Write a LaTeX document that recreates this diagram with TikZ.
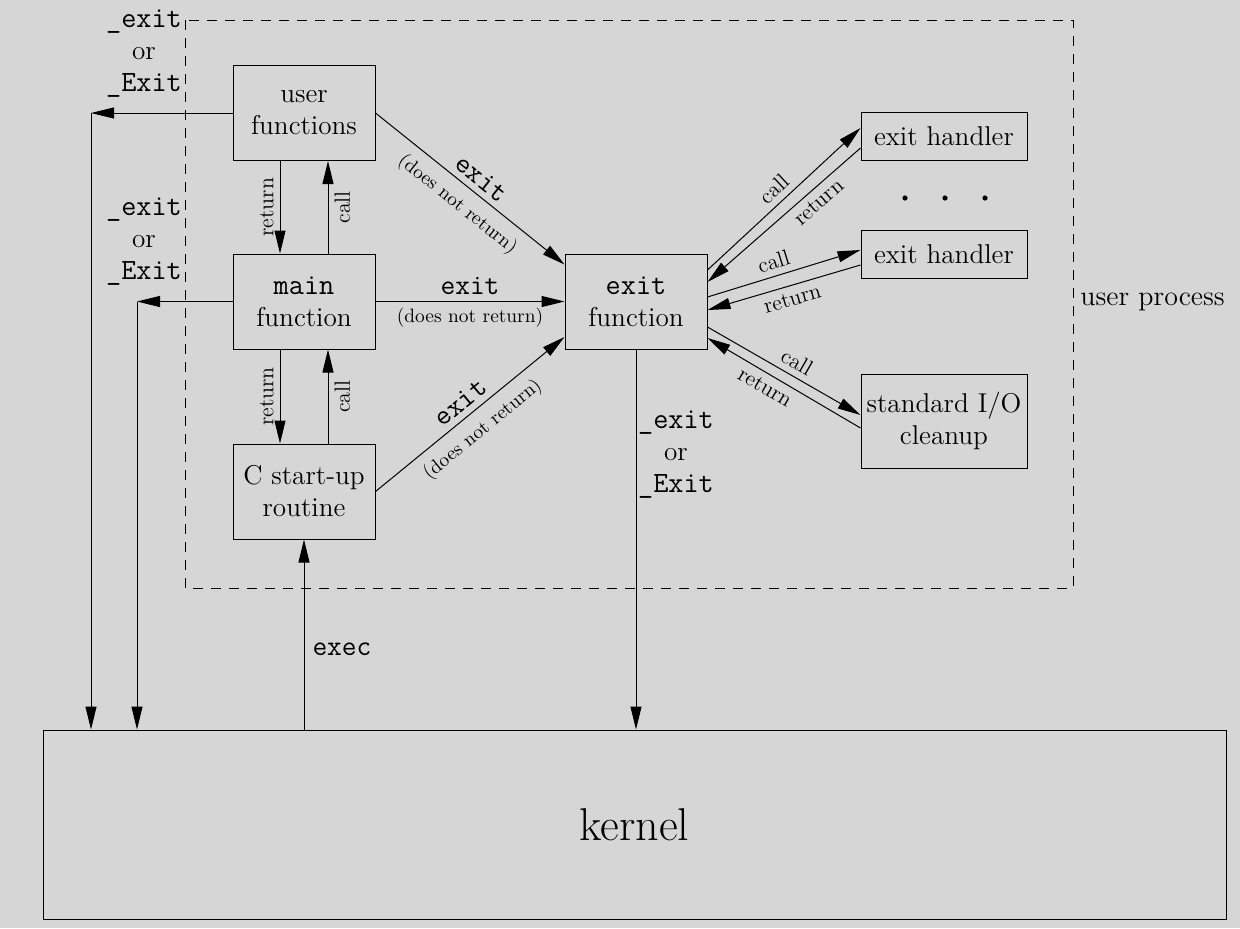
\documentclass[tikz,border=0pt]{standalone}
\usepackage{fontspec}
\usetikzlibrary{arrows.meta,calc}
\definecolor{bg}{RGB}{214,214,214}
\newcommand\ttxt[1]{{\fontsize{14.7}{16}\selectfont\ttfamily #1}}
\begin{document}
\begin{tikzpicture}[x=0.5pt,y=-0.5pt,
  box/.style={draw, line width=0.5pt, inner sep=0pt, align=center, font=\fontsize{13.6}{16}\selectfont},
  bigbox/.style={box, minimum width=71pt, minimum height=47.5pt},
  hbox/.style={box, minimum width=83pt},
  arr/.style={line width=0.5pt, -{Triangle[length=11.5pt,width=5.5pt]}},
  lbl/.style={font=\fontsize{11}{13}\selectfont, inner sep=3pt},
  dnr/.style={font=\fontsize{9.7}{11}\selectfont, inner sep=3pt},
  ttl/.style={font=\fontsize{14.3}{15}\selectfont\ttfamily, inner sep=3pt},
  xor/.style={align=center, inner sep=0pt, font=\fontsize{13.6}{16}\selectfont}
]
\fill[bg] (0,0) rectangle (1240,928);
\useasboundingbox (0,0) rectangle (1240,928);

% user process frame
\draw[line width=0.5pt, dash pattern=on 5pt off 4pt] (185,20) rectangle (1073,588);
\node[anchor=west, inner sep=0pt, font=\fontsize{14}{16}\selectfont] (up) at (1080,302) {user process};

% boxes
\node[bigbox] (uf) at (304,113) {user\\functions};
\node[bigbox] (main) at (304,301.5) {\ttxt{main}\\function};
\node[bigbox] (cs) at (304,491.5) {C start-up\\routine};
\node[bigbox] (ef) at (636,301.5) {\ttxt{exit}\\function};
\node[hbox, minimum height=24pt] (h1) at (944,136) {exit handler};
\node[hbox, minimum height=24pt] (h2) at (944,254) {exit handler};
\node[hbox, minimum height=47pt] (io) at (944,421) {standard I/O\\cleanup};
\node[box, minimum width=591.5pt, minimum height=94.5pt, font=\fontsize{23}{26}\selectfont] (kernel) at (634.5,824.5) {kernel};

% dots
\foreach \x in {905,945,985} \fill (\x,198) circle (1.3pt);

% _exit or _Exit labels
\node[xor] (xl1) at (144,54) {\ttxt{\_exit}\\or\\\ttxt{\_Exit}};
\node[xor] (xl2) at (144,242) {\ttxt{\_exit}\\or\\\ttxt{\_Exit}};
\node[xor] (xl3) at (676,455) {\ttxt{\_exit}\\or\\\ttxt{\_Exit}};

% left exits to kernel
\coordinate (c1) at (91,113);
\coordinate (c2) at (137,301.5);
\draw[arr] (uf.west) -- (c1);
\draw[arr] (c1) -- (c1 |- kernel.north);
\draw[arr] (main.west) -- (c2);
\draw[arr] (c2) -- (c2 |- kernel.north);

% call / return vertical
\draw[arr] ($(uf.south)+(-24,0)$) -- node[lbl, midway, rotate=90, anchor=south]{return} ($(main.north)+(-24,0)$);
\draw[arr] ($(main.north)+(24,0)$) -- node[lbl, midway, rotate=90, anchor=north]{call} ($(uf.south)+(24,0)$);
\draw[arr] ($(main.south)+(-24,0)$) -- node[lbl, midway, rotate=90, anchor=south]{return} ($(cs.north)+(-24,0)$);
\draw[arr] ($(cs.north)+(24,0)$) -- node[lbl, midway, rotate=90, anchor=north]{call} ($(main.south)+(24,0)$);

% exec
\draw[arr] (kernel.north -| cs.south) -- node[ttl, pos=0.42, anchor=west, xshift=1pt]{exec} (cs.south);

% exit function to kernel
\draw[arr] (ef.south) -- (ef.south |- kernel.north);

% exit calls
\draw[arr] (uf.east) -- node[ttl, pos=0.51, sloped, above]{exit} node[dnr, pos=0.5, sloped, below, inner sep=5pt]{(does not return)} ($(ef.west)+(0,-37)$);
\draw[arr] (main.east) -- node[ttl, midway, above]{exit} node[dnr, midway, below]{(does not return)} (ef.west);
\draw[arr] (cs.east) -- node[ttl, pos=0.5, sloped, above]{exit} node[dnr, pos=0.5, sloped, below, inner sep=5pt]{(does not return)} ($(ef.west)+(0,35.5)$);

% exit handlers
\draw[arr] ($(ef.east)+(0,-31.5)$) -- node[lbl, pos=0.5, sloped, above]{call} ($(h1.west)+(0,-8)$);
\draw[arr] ($(h1.west)+(0,12)$) -- node[lbl, pos=0.33, sloped, below]{return} ($(ef.east)+(0,-19.5)$);
\draw[arr] ($(ef.east)+(0,-4.5)$) -- node[lbl, pos=0.46, sloped, above]{call} ($(h2.west)+(0,-4)$);
\draw[arr] ($(h2.west)+(0,11)$) -- node[lbl, pos=0.47, sloped, below]{return} ($(ef.east)+(0,8.5)$);
\draw[arr] ($(ef.east)+(0,25.5)$) -- node[lbl, pos=0.54, sloped, above]{call} ($(io.west)+(0,-6)$);
\draw[arr] ($(io.west)+(0,7)$) -- node[lbl, pos=0.58, sloped, below]{return} ($(ef.east)+(0,36.5)$);
\end{tikzpicture}
\end{document}
